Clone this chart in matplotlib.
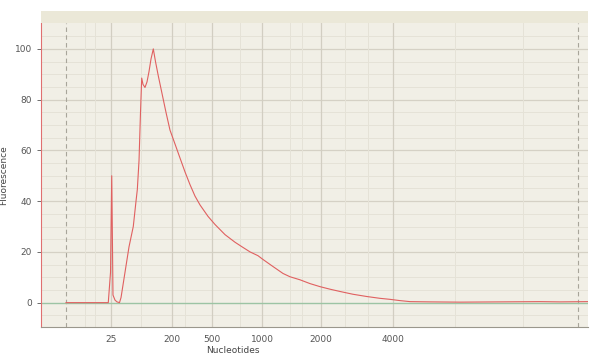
import matplotlib.pyplot as plt
from matplotlib.patches import Rectangle

# migration time (arbitrary units) and fluorescence
time = [4.57, 12.30, 12.71, 12.93, 13.03, 13.16, 13.53, 13.89, 14.35, 14.63,
        15.36, 16.09, 16.87, 17.37, 17.61, 17.92, 18.19, 18.41, 18.65, 19.01,
        19.38, 19.74, 20.11, 20.53, 20.93, 21.44, 22.36, 22.85, 23.58, 24.50,
        25.41, 26.33, 27.24, 28.15, 29.07, 30.53, 31.81, 33.64, 35.47, 36.75,
        38.21, 39.67, 40.59, 42.23, 44.24, 45.52, 47.35, 49.18, 51.01, 52.83,
        54.66, 57.04, 59.60, 61.97, 63.80, 65.63, 67.46, 71.12, 76.60, 83.91,
        91.22, 94.88, 100.0]
fluor = [0.0, 0.0, 12.0, 50.0, 30.0, 3.0, 1.0, 0.3, 0.0, 2.0,
         12.0, 22.0, 30.0, 40.0, 44.6, 56.0, 75.0, 88.5, 86.0, 84.8,
         87.0, 91.0, 96.0, 100.0, 95.0, 89.4, 80.0, 75.0, 68.0, 62.5,
         57.0, 51.5, 46.5, 42.0, 38.5, 34.0, 30.8, 26.8, 23.8, 22.0,
         20.0, 18.5, 17.0, 14.5, 11.5, 10.2, 9.0, 7.5, 6.3, 5.3,
         4.4, 3.3, 2.4, 1.7, 1.3, 0.8, 0.4, 0.3, 0.2, 0.3,
         0.4, 0.3, 0.4]

# ladder positions and their labels
tick_pos = [12.74, 23.89, 31.26, 40.49, 51.19, 64.30]
tick_labels = ['25', '200', '500', '1000', '2000', '4000']
marker_pos = [4.57, 98.17]
minor_x = [8.0, 9.9, 18.2, 26.4, 36.4, 45.5, 47.66, 55.6, 59.78, 75.7, 88.1]
y_ticks = [0, 20, 40, 60, 80, 100]

bg = '#f1efe6'
fig = plt.figure(figsize=(5.9, 3.57), dpi=100)
fig.patch.set_facecolor('white')
# header band above the plot area
fig.patches.append(Rectangle((41 / 590, (357 - 23) / 357), 547 / 590, 12 / 357,
                             transform=fig.transFigure, facecolor='#ebe8d8',
                             edgecolor='none', zorder=0))
ax = fig.add_axes([41 / 590, 30 / 357, 547 / 590, 304 / 357])
ax.set_facecolor(bg)

ax.set_xlim(0, 100)
ax.set_ylim(-9.6, 110.2)

# grid
for y in range(-5, 110, 5):
    if y % 20:
        ax.axhline(y, color='#e5e2d7', lw=0.7, zorder=1)
for y in y_ticks[1:]:
    ax.axhline(y, color='#d5d1c5', lw=0.9, zorder=1)
for x in minor_x:
    ax.axvline(x, color='#e5e2d7', lw=0.7, zorder=1)
for x in tick_pos:
    ax.axvline(x, color='#d2cec2', lw=0.9, zorder=1)
for x in marker_pos:
    ax.axvline(x, color='#a8a59a', lw=0.8, ls=(0, (4, 3)), zorder=1)

ax.axhline(0, color='#9cc4a4', lw=1.0, zorder=2)
ax.plot(time, fluor, color='#e06060', lw=0.8, zorder=3)

ax.set_xticks(tick_pos)
ax.set_xticklabels(tick_labels)
ax.set_yticks(y_ticks)
ax.tick_params(axis='both', labelsize=6.5, colors='#555555', length=3, width=0.6)
ax.tick_params(axis='x', length=0, pad=6)

for s in ['top', 'right']:
    ax.spines[s].set_visible(False)
ax.spines['left'].set_color('#e07070')
ax.spines['bottom'].set_color('#9a978c')

ax.set_xlabel('Nucleotides', fontsize=6.5, color='#444444')
ax.xaxis.set_label_coords((233 - 41) / 547, -0.062)
ax.set_ylabel('Fluorescence', fontsize=6.5, color='#444444')
ax.yaxis.set_label_coords(-0.06, 0.5)

fig.savefig('out.png', dpi=100)
